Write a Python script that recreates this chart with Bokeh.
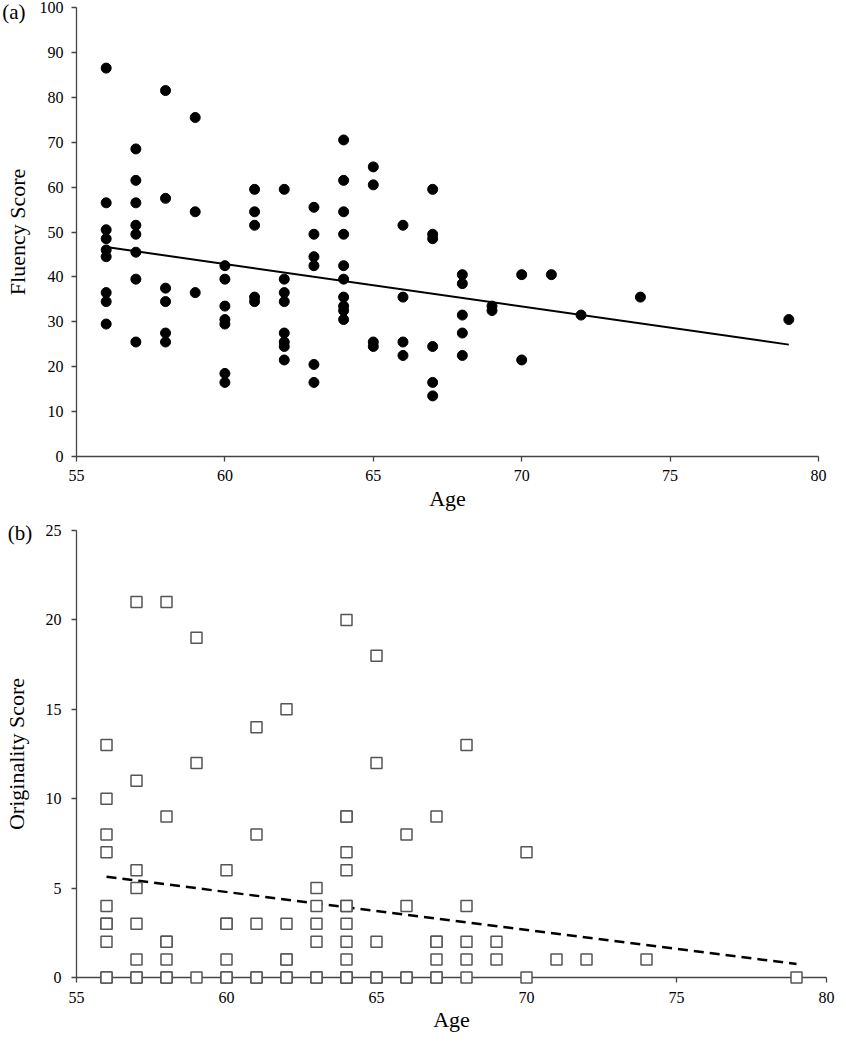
import numpy as np
from bokeh.plotting import figure
from bokeh.layouts import column
from bokeh.models import FixedTicker, ColumnDataSource, Range1d
from bokeh.core.properties import value
from bokeh.embed import file_html
from bokeh.resources import INLINE

# ---------------- data ----------------
# Panel (a): Fluency score vs age
age_a = ([56] * 9 + [57] * 8 + [58] * 6 + [59] * 3 + [60] * 7 + [61] * 5 + [62] * 8 +
         [63] * 6 + [64] * 10 + [65] * 4 + [66] * 4 + [67] * 6 + [68] * 5 + [69] * 2 +
         [70] * 2 + [71] + [72] + [74] + [79])
fluency = [86.5, 56.5, 50.5, 48.5, 46, 44.5, 36.5, 34.5, 29.5,
           68.5, 61.5, 56.5, 51.5, 49.5, 45.5, 39.5, 25.5,
           81.5, 57.5, 37.5, 34.5, 27.5, 25.5,
           75.5, 54.5, 36.5,
           42.5, 39.5, 33.5, 30.5, 29.5, 18.5, 16.5,
           59.5, 54.5, 51.5, 35.5, 34.5,
           59.5, 39.5, 36.5, 34.5, 27.5, 25.5, 24.5, 21.5,
           55.5, 49.5, 44.5, 42.5, 20.5, 16.5,
           70.5, 61.5, 54.5, 49.5, 42.5, 39.5, 35.5, 33.5, 32.5, 30.5,
           64.5, 60.5, 25.5, 24.5,
           51.5, 35.5, 25.5, 22.5,
           59.5, 49.5, 48.5, 24.5, 16.5, 13.5,
           40.5, 38.5, 31.5, 27.5, 22.5,
           33.5, 32.5,
           40.5, 21.5,
           40.5,
           31.5,
           35.5,
           30.5]

# Panel (b): Originality score vs age (several zero scores overlap on the axis)
age_b = ([56] * 10 + [57] * 8 + [58] * 7 + [59] * 3 + [60] * 6 + [61] * 5 + [62] * 6 +
         [63] * 6 + [64] * 13 + [65] * 5 + [66] * 4 + [67] * 6 + [68] * 5 + [69] * 2 +
         [70] * 2 + [71] + [72] + [74] + [79])
originality = [13, 10, 8, 7, 4, 3, 3, 2, 0, 0,
               21, 11, 6, 5, 3, 1, 0, 0,
               21, 9, 2, 2, 1, 0, 0,
               19, 12, 0,
               6, 3, 3, 1, 0, 0,
               14, 8, 3, 0, 0,
               15, 3, 1, 1, 0, 0,
               5, 4, 3, 2, 0, 0,
               20, 9, 9, 7, 6, 4, 4, 3, 2, 1, 0, 0, 0,
               18, 12, 2, 0, 0,
               8, 4, 0, 0,
               9, 2, 2, 1, 0, 0,
               13, 4, 2, 1, 0,
               2, 1,
               7, 0,
               1,
               1,
               1,
               0]

x_ticks = [55, 60, 65, 70, 75, 80]
y_ticks_a = [0, 10, 20, 30, 40, 50, 60, 70, 80, 90, 100]
y_ticks_b = [0, 5, 10, 15, 20, 25]
panel_tags = ["(a)", "(b)"]

FONT = "Liberation Serif"
AXIS_COL = "#444444"


def style(p, yticks, xstand, ystand, xlab_stand, ylab_stand):
    p.xgrid.visible = False
    p.ygrid.visible = False
    p.outline_line_color = None
    p.xaxis.ticker = FixedTicker(ticks=x_ticks)
    p.yaxis.ticker = FixedTicker(ticks=yticks)
    for ax in (p.xaxis[0], p.yaxis[0]):
        ax.axis_line_color = AXIS_COL
        ax.axis_line_width = 1.3
        ax.major_tick_line_color = AXIS_COL
        ax.major_tick_line_width = 1.3
        ax.major_tick_out = 5
        ax.major_tick_in = 0
        ax.minor_tick_line_color = None
        ax.major_label_text_font = FONT
        ax.major_label_text_font_size = "16px"
        ax.major_label_text_color = "black"
        ax.axis_label_text_font = FONT
        ax.axis_label_text_font_size = "22px"
        ax.axis_label_text_font_style = "normal"
        ax.axis_label_text_color = "black"
    p.xaxis.major_label_standoff = xstand
    p.yaxis.major_label_standoff = ystand
    p.xaxis.axis_label_standoff = xlab_stand
    p.yaxis.axis_label_standoff = ylab_stand


def tag(p, x, y, txt):
    r = p.text(x=[x], y=[y], text=[txt], text_font=value(FONT), text_font_size="21px",
               text_baseline="middle", text_align="left", text_color="black")
    r.level = "overlay"


# ---------------- panel (a) ----------------
pa = figure(frame_width=742, frame_height=449, min_border_left=69, min_border_right=27,
            min_border_top=7, min_border_bottom=64,
            x_range=Range1d(55, 80), y_range=Range1d(0, 100),
            output_backend="svg", toolbar_location=None,
            x_axis_label="Age", y_axis_label="Fluency Score")
style(pa, y_ticks_a, 8, 8, 2, 7)

src_a = ColumnDataSource(dict(x=age_a, y=fluency))
pa.scatter("x", "y", source=src_a, size=10, marker="circle",
           fill_color="black", line_color="black")

ma, ba = np.polyfit(np.array(age_a, float), np.array(fluency, float), 1)
xa = np.array([min(age_a), max(age_a)], float)
pa.line(xa, ma * xa + ba, line_color="black", line_width=2)

tag(pa, 52.5, 99.0, panel_tags[0])

# ---------------- panel (b) ----------------
pb = figure(frame_width=750, frame_height=447, min_border_left=74, min_border_right=14,
            min_border_top=10, min_border_bottom=57,
            x_range=Range1d(55, 80), y_range=Range1d(0, 25),
            output_backend="svg", toolbar_location=None,
            x_axis_label="Age", y_axis_label="Originality Score")
style(pb, y_ticks_b, 9, 10, 1, 14)

mb, bb = np.polyfit(np.array(age_b, float), np.array(originality, float), 1)
xb = np.array([min(age_b), max(age_b)], float)
pb.line(xb, mb * xb + bb, line_color="black", line_width=2.5, line_dash="10 6")

src_b = ColumnDataSource(dict(x=age_b, y=originality))
rb = pb.scatter("x", "y", source=src_b, size=11, marker="square",
                fill_color="white", line_color="#555555", line_width=1.5)
rb.level = "overlay"

tag(pb, 52.71, 24.85, panel_tags[1])

layout = column(pa, pb)
open("out.html", "w").write(file_html(layout, INLINE))
